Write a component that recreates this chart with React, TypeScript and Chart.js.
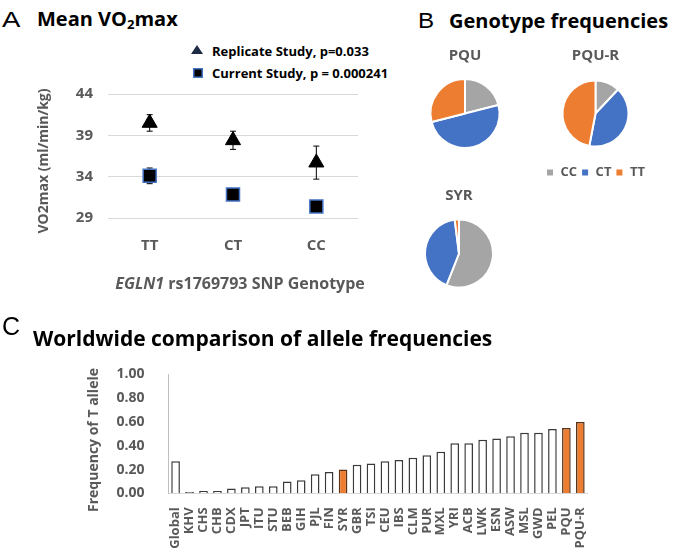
import React, { useEffect, useRef } from "react";
import { Chart, registerables } from "chart.js";
Chart.register(...registerables);

const FONT = "'Open Sans', 'Noto Sans', sans-serif";
const GRAY_TEXT = "#595959";
const ORANGE = "#ED7D31";

// ---------- Panel A: Mean VO2max ----------
const genotypes = ["TT", "CT", "CC"];
const replicateMean = [40.5, 38.4, 35.7];
const replicateErr = [1.0, 1.1, 2.0];
const currentMean = [34.1, 31.85, 30.4];
const currentErr = [0.95, 0.4, 0.4];
const vo2Min = 29;
const vo2Max = 44;
const vo2Step = 5;

// ---------- Panel B: Genotype frequencies ----------
const genotypeClasses = ["CC", "CT", "TT"];
const pquFreq = [0.21, 0.5, 0.29];
const pquRFreq = [0.12, 0.41, 0.47];
const syrFreq = [0.56, 0.42, 0.02];
const genotypeColors = ["#A5A5A5", "#4472C4", "#ED7D31"];

// ---------- Panel C: Worldwide allele frequencies ----------
const populations = [
  "Global", "KHV", "CHS", "CHB", "CDX", "JPT", "ITU", "STU", "BEB", "GIH",
  "PJL", "FIN", "SYR", "GBR", "TSI", "CEU", "IBS", "CLM", "PUR", "MXL",
  "YRI", "ACB", "LWK", "ESN", "ASW", "MSL", "GWD", "PEL", "PQU", "PQU-R",
];
const tAlleleFreq = [
  0.27, 0.01, 0.02, 0.02, 0.04, 0.05, 0.06, 0.06, 0.10, 0.11,
  0.16, 0.18, 0.20, 0.24, 0.25, 0.27, 0.28, 0.30, 0.32, 0.35,
  0.42, 0.42, 0.45, 0.46, 0.48, 0.51, 0.51, 0.54, 0.55, 0.60,
];
const highlightedPops = ["SYR", "PQU", "PQU-R"];
const freqMin = 0;
const freqMax = 1;
const freqStep = 0.2;

const errorBarPlugin = {
  id: "errorBars",
  beforeDatasetsDraw(chart: any) {
    const { ctx } = chart;
    const yScale = chart.scales.y;
    chart.data.datasets.forEach((ds: any, di: number) => {
      const meta = chart.getDatasetMeta(di);
      const errs: number[] = ds.errors || [];
      meta.data.forEach((pt: any, i: number) => {
        const v = ds.data[i];
        const e = errs[i];
        if (e == null) return;
        const yTop = yScale.getPixelForValue(v + e);
        const yBot = yScale.getPixelForValue(v - e);
        const x = pt.x;
        ctx.save();
        ctx.strokeStyle = "#000";
        ctx.lineWidth = 1;
        ctx.beginPath();
        ctx.moveTo(x, yTop);
        ctx.lineTo(x, yBot);
        ctx.moveTo(x - 3, yTop);
        ctx.lineTo(x + 3, yTop);
        ctx.moveTo(x - 3, yBot);
        ctx.lineTo(x + 3, yBot);
        ctx.stroke();
        ctx.restore();
      });
    });
  },
};

function vo2Config(): any {
  return {
    type: "line",
    data: {
      labels: genotypes,
      datasets: [
        {
          label: "Replicate Study, p=0.033",
          data: replicateMean,
          errors: replicateErr,
          showLine: false,
          pointStyle: "triangle",
          pointRadius: 8.7,
          pointBackgroundColor: "#000",
          pointBorderColor: "#000",
          pointBorderWidth: 1,
        },
        {
          label: "Current Study, p = 0.000241",
          data: currentMean,
          errors: currentErr,
          showLine: false,
          pointStyle: "rect",
          pointRadius: 9.2,
          pointBackgroundColor: "#000",
          pointBorderColor: "#4472C4",
          pointBorderWidth: 1.5,
        },
      ],
    },
    options: {
      animation: false,
      responsive: false,
      events: [],
      layout: { padding: { top: 16, right: 12, left: 0, bottom: 0 } },
      plugins: { legend: { display: false }, tooltip: { enabled: false } },
      scales: {
        x: {
          offset: true,
          grid: { display: false },
          border: { display: false },
          ticks: {
            color: GRAY_TEXT,
            padding: 11,
            font: { family: FONT, size: 15, weight: "bold" },
          },
          afterFit: (s: any) => {
            s.height = 82;
          },
        },
        y: {
          min: vo2Min,
          max: vo2Max,
          grid: { color: "#D9D9D9", drawTicks: false },
          border: { display: false },
          ticks: {
            stepSize: vo2Step,
            color: GRAY_TEXT,
            padding: 15,
            font: { family: FONT, size: 15, weight: "bold" },
          },
          afterFit: (s: any) => {
            s.width = 88;
          },
        },
      },
    },
    plugins: [errorBarPlugin],
  };
}

function pieConfig(title: string, values: number[], radius: number, showLegend: boolean): any {
  return {
    type: "pie",
    data: {
      labels: genotypeClasses,
      datasets: [
        {
          data: values,
          backgroundColor: genotypeColors,
          borderColor: "#ffffff",
          borderWidth: 2,
          radius: radius,
        },
      ],
    },
    options: {
      animation: false,
      responsive: false,
      events: [],
      radius: radius,
      layout: { padding: 0 },
      plugins: {
        tooltip: { enabled: false },
        title: {
          display: true,
          text: title,
          color: GRAY_TEXT,
          padding: { top: 0, bottom: 0 },
          font: { family: FONT, size: 15, weight: "bold" },
        },
        legend: {
          display: showLegend,
          position: "bottom",
          labels: {
            boxWidth: 8,
            boxHeight: 8,
            padding: 4,
            color: GRAY_TEXT,
            font: { family: FONT, size: 13, weight: "bold" },
          },
        },
      },
    },
  };
}

function freqConfig(): any {
  return {
    type: "bar",
    data: {
      labels: populations,
      datasets: [
        {
          data: tAlleleFreq,
          backgroundColor: populations.map((p) => (highlightedPops.includes(p) ? ORANGE : "#ffffff")),
          borderColor: populations.map((p) => (highlightedPops.includes(p) ? "#5A3418" : "#3A3A3A")),
          borderWidth: 1.5,
          barPercentage: 0.62,
          categoryPercentage: 1,
        },
      ],
    },
    options: {
      animation: false,
      responsive: false,
      events: [],
      layout: { padding: { top: 13, right: 4, left: 0, bottom: 0 } },
      plugins: { legend: { display: false }, tooltip: { enabled: false } },
      scales: {
        x: {
          grid: { display: false },
          border: { display: true, color: "#D9D9D9", width: 1 },
          ticks: {
            autoSkip: false,
            minRotation: 90,
            maxRotation: 90,
            padding: 6,
            color: GRAY_TEXT,
            font: { family: FONT, size: 13, weight: "bold" },
          },
          afterFit: (s: any) => {
            s.height = 56.7;
          },
        },
        y: {
          min: freqMin,
          max: freqMax,
          grid: { display: false },
          border: { display: true, color: "#BFBFBF", width: 1 },
          ticks: {
            stepSize: freqStep,
            padding: 16,
            color: GRAY_TEXT,
            font: { family: FONT, size: 14, weight: "bold" },
            callback: (v: any) => Number(v).toFixed(2),
          },
          afterFit: (s: any) => {
            s.width = 58.6;
          },
        },
      },
    },
  };
}

function ChartCanvas(props: { left: number; top: number; width: number; height: number; make: () => any }) {
  const ref = useRef<HTMLCanvasElement | null>(null);
  useEffect(() => {
    const chart = new Chart(ref.current as HTMLCanvasElement, props.make());
    return () => chart.destroy();
  }, []);
  return (
    <canvas
      ref={ref}
      width={props.width}
      height={props.height}
      style={{ position: "absolute", left: props.left, top: props.top, width: props.width, height: props.height }}
    />
  );
}

function Txt(props: { x: number; y: number; anchor?: "center" | "left"; rotate?: number; style?: any; children: any }) {
  const tx = props.anchor === "left" ? "0" : "-50%";
  return (
    <div
      style={{
        position: "absolute",
        left: props.x,
        top: props.y,
        transform: `translate(${tx}, -50%) rotate(${props.rotate || 0}deg)`,
        whiteSpace: "nowrap",
        fontFamily: FONT,
        lineHeight: 1,
        ...props.style,
      }}
    >
      {props.children}
    </div>
  );
}

const letterStyle = { fontFamily: "'Liberation Sans', Arial, sans-serif", fontWeight: 400, color: "#000" };
const titleStyle = { fontWeight: 700, color: "#000", fontSize: 20 };
const axisTitleStyle = { fontWeight: 700, color: GRAY_TEXT, fontSize: 14 };

export default function App() {
  return (
    <div style={{ position: "absolute", left: 0, top: 0, width: 677, height: 550, background: "#fff", overflow: "hidden" }}>
      {/* Panel A */}
      <Txt x={2} y={20} anchor="left" style={{ ...letterStyle, fontSize: 22, transform: "translate(0,-50%) scaleX(1.25)", transformOrigin: "left center" }}>A</Txt>
      <Txt x={37} y={20} anchor="left" style={titleStyle}>
        Mean VO<sub style={{ fontSize: 13, verticalAlign: "-3px" }}>2</sub>max
      </Txt>
      <svg style={{ position: "absolute", left: 191, top: 45 }} width="12" height="10">
        <polygon points="6,0 12,9 0,9" fill="#1F2A44" />
      </svg>
      <Txt x={212} y={51} anchor="left" style={{ fontWeight: 700, fontSize: 13, color: "#000" }}>
        Replicate Study, p=0.033
      </Txt>
      <svg style={{ position: "absolute", left: 193, top: 68 }} width="10" height="10">
        <rect x="0.75" y="0.75" width="8.5" height="8.5" fill="#000" stroke="#4472C4" strokeWidth="1.5" />
      </svg>
      <Txt x={212} y={73} anchor="left" style={{ fontWeight: 700, fontSize: 13, color: "#000" }}>
        Current Study, p = 0.000241
      </Txt>
      <ChartCanvas left={20} top={70} width={350} height={230} make={vo2Config} />
      <Txt x={43} y={161} rotate={-90} style={axisTitleStyle}>VO2max (ml/min/kg)</Txt>
      <Txt x={240} y={283} style={{ fontWeight: 700, color: GRAY_TEXT, fontSize: 16 }}>
        <i>EGLN1</i> rs1769793 SNP Genotype
      </Txt>

      {/* Panel B */}
      <Txt x={418} y={21} anchor="left" style={{ ...letterStyle, fontSize: 22, transform: "translate(0,-50%) scaleX(1.1)", transformOrigin: "left center" }}>B</Txt>
      <Txt x={449} y={21} anchor="left" style={titleStyle}>Genotype frequencies</Txt>
      <ChartCanvas left={409.5} top={47} width={110} height={115} make={() => pieConfig("PQU", pquFreq, 34.5, false)} />
      <ChartCanvas left={523} top={47} width={145} height={142} make={() => pieConfig("PQU-R", pquRFreq, 33, true)} />
      <ChartCanvas left={404} top={187} width={110} height={115} make={() => pieConfig("SYR", syrFreq, 34, false)} />

      {/* Panel C */}
      <Txt x={2} y={326} anchor="left" style={{ ...letterStyle, fontSize: 25 }}>C</Txt>
      <Txt x={33} y={338} anchor="left" style={{ ...titleStyle, fontSize: 21 }}>Worldwide comparison of allele frequencies</Txt>
      <ChartCanvas left={110} top={350} width={492} height={200} make={freqConfig} />
      <Txt x={93} y={440} rotate={-90} style={axisTitleStyle}>Frequency of T allele</Txt>
    </div>
  );
}
